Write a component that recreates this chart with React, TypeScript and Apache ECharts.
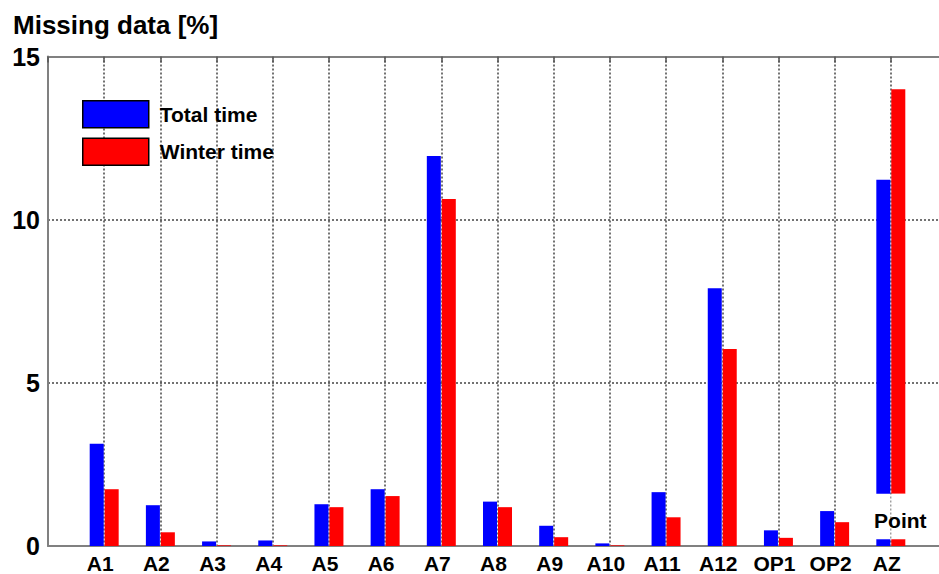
import React, { useEffect, useRef } from "react";
import * as echarts from "echarts";

const categories = ["A1", "A2", "A3", "A4", "A5", "A6", "A7", "A8", "A9", "A10", "A11", "A12", "OP1", "OP2", "AZ"];
const totalTime = [3.13, 1.25, 0.14, 0.17, 1.28, 1.74, 11.95, 1.36, 0.62, 0.08, 1.65, 7.9, 0.48, 1.07, 11.22];
const winterTime = [1.74, 0.42, 0.02, 0.02, 1.19, 1.53, 10.63, 1.19, 0.27, 0.02, 0.88, 6.04, 0.25, 0.73, 14.0];
// AZ bars are broken: a small "Point" part at the bottom, then a gap
const breakCategory = "AZ";
const breakRange = [0.21, 1.6];
const yTicks = [0, 5, 10, 15];

const FONT = "'Liberation Sans', Arial, sans-serif";

function splitSeries(values: number[]) {
  const lower: (number | string)[] = ["-"];
  const gap: (number | string)[] = ["-"];
  const upper: (number | string)[] = ["-"];
  categories.forEach((c, i) => {
    const v = values[i];
    if (c === breakCategory) {
      lower.push(breakRange[0]);
      gap.push(+(breakRange[1] - breakRange[0]).toFixed(3));
      upper.push(+(v - breakRange[1]).toFixed(3));
    } else {
      lower.push(v);
      gap.push("-");
      upper.push("-");
    }
  });
  lower.push("-");
  gap.push("-");
  upper.push("-");
  return { lower, gap, upper };
}

export default function App() {
  const ref = useRef<HTMLDivElement>(null);
  useEffect(() => {
    document.body.style.margin = "0";
    if (!ref.current) return;
    const chart = echarts.init(ref.current, undefined, { renderer: "svg" });
    const xData = ["", ...categories, ""];
    const b = splitSeries(totalTime);
    const r = splitSeries(winterTime);
    const barCommon = { barWidth: 14, barGap: "7%" };
    chart.setOption({
      animation: false,
      backgroundColor: "#fff",
      textStyle: { fontFamily: FONT },
      title: {
        text: "Missing data [%]",
        left: 8,
        top: 7,
        textStyle: { fontFamily: FONT, fontSize: 26, fontWeight: "bold", color: "#000" },
      },
      legend: {
        data: ["Total time", "Winter time"],
        orient: "vertical",
        left: 77,
        top: 95,
        itemWidth: 66,
        itemHeight: 27,
        itemGap: 9,
        icon: "rect",
        selectedMode: false,
        itemStyle: { borderColor: "#000", borderWidth: 1.5 },
        textStyle: { fontFamily: FONT, fontSize: 21, fontWeight: "bold", color: "#000", padding: [0, 0, 0, 6] },
      },
      grid: {
        left: 48,
        top: 56.5,
        width: 899,
        height: 489.5,
        show: false,
        containLabel: false,
      },
      xAxis: [
        {
          type: "category",
          data: xData,
          boundaryGap: false,
          axisLine: { lineStyle: { color: "#808080", width: 2 } },
          axisTick: { show: false },
          axisLabel: { interval: 0, margin: 7, padding: [0, 8, 0, 0], fontFamily: FONT, fontSize: 21, fontWeight: "bold", color: "#000" },
          splitLine: { show: true, interval: 0, lineStyle: { color: "#444", width: 1.5, type: [2, 2] } },
        },
        {
          type: "category",
          data: xData,
          boundaryGap: false,
          position: "top",
          axisLine: { show: true, lineStyle: { color: "#808080", width: 2 } },
          axisTick: { show: true, inside: true, length: 6, interval: 0, lineStyle: { color: "#555", width: 1.5 } },
          axisLabel: { show: false },
          splitLine: { show: false },
        },
      ],
      yAxis: {
        type: "value",
        min: yTicks[0],
        max: yTicks[yTicks.length - 1],
        interval: yTicks[1] - yTicks[0],
        axisLine: { show: true, lineStyle: { color: "#808080", width: 2 } },
        axisTick: { show: false },
        axisLabel: { margin: 8, fontFamily: FONT, fontSize: 25, fontWeight: "bold", color: "#000" },
        splitLine: { show: true, lineStyle: { color: "#444", width: 1.5, type: [2, 2] } },
      },
      series: [
        { name: "Total time", type: "bar", stack: "total", data: b.lower, itemStyle: { color: "#0000FF" }, ...barCommon },
        { name: "Total time gap", type: "bar", stack: "total", data: b.gap, itemStyle: { color: "#FFFFFF" }, ...barCommon },
        { name: "Total time upper", type: "bar", stack: "total", data: b.upper, itemStyle: { color: "#0000FF" }, ...barCommon },
        { name: "Winter time", type: "bar", stack: "winter", data: r.lower, itemStyle: { color: "#FF0000" }, ...barCommon },
        {
          name: "Winter time gap",
          type: "bar",
          stack: "winter",
          data: r.gap,
          itemStyle: { color: "#FFFFFF" },
          label: {
            show: true,
            position: "inside",
            formatter: "Point",
            offset: [2, 4],
            fontFamily: FONT,
            fontSize: 21,
            fontWeight: "bold",
            color: "#000",
          },
          z: 3,
          ...barCommon,
        },
        { name: "Winter time upper", type: "bar", stack: "winter", data: r.upper, itemStyle: { color: "#FF0000" }, ...barCommon },
      ],
    });
    return () => chart.dispose();
  }, []);
  return (
    <div style={{ width: 939, height: 574, overflow: "hidden", position: "relative" }}>
      <div ref={ref} style={{ width: 980, height: 574 }} />
    </div>
  );
}
